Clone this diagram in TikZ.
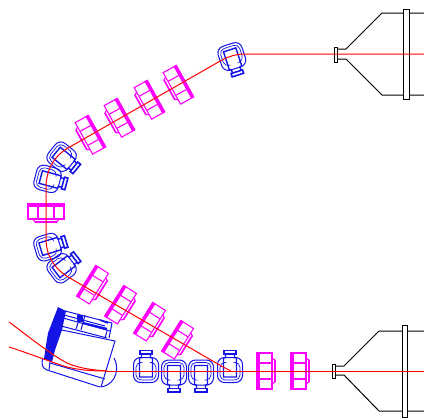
\documentclass[tikz,border=0pt]{standalone}
\definecolor{quadpink}{RGB}{255,0,255}
\definecolor{dipblue}{RGB}{20,20,230}
\definecolor{beamred}{RGB}{255,0,0}
\tikzset{
	pics/quadmag/.style={code={
		\draw[color=quadpink,line width=1.1pt] (-8,-18) rectangle (7,18);
		\draw[color=quadpink,line width=1.1pt] (-8,-8)--(7,-8);
		\draw[color=quadpink,line width=1.1pt] (-8,8)--(7,8);
		\draw[color=quadpink,line width=1.1pt] (7,-13) -- (10,-11) -- (10,11) -- (7,13);
		\fill[color=quadpink] (-8.5,-18.5) rectangle (-5,18.5);
		\fill[color=quadpink] (9,-11) rectangle (10.5,11);
	}},
	pics/dipmag/.style={code={
		\draw[color=dipblue,line width=1pt,rounded corners=7pt] (-12.5,-12) rectangle (12.5,13);
		\draw[color=dipblue,line width=0.7pt,rounded corners=5pt] (-6,-7) -- (-10,-7) -- (-10,10.5) -- (10,10.5) -- (10,-7) -- (6,-7);
		\draw[color=dipblue,line width=1.4pt] (-4.5,-15.5) -- (-4.5,-12) -- (-6.5,-11.5) -- (-6.5,7.5) -- (6.5,7.5) -- (6.5,-11.5) -- (4.5,-12) -- (4.5,-15.5);
		\draw[color=dipblue,line width=1.6pt] (-6,-15.5) rectangle (6,-19);
	}}
}
\begin{document}
\begin{tikzpicture}[>=stealth,x=1pt,y=-1pt,line width=1pt]
	\useasboundingbox (0,0) rectangle (424,418);
	% upper arm
	\pic[rotate=209] at (178,85) {quadmag};
	\pic[rotate=209] at (149,100) {quadmag};
	\pic[rotate=209] at (119,118) {quadmag};
	\pic[rotate=209] at (90,135) {quadmag};
	\pic[rotate=-162] at (232,57) {dipmag};
	\pic[rotate=-129] at (62,157) {dipmag};
	\pic[rotate=-105] at (48,179) {dipmag};
	% bend
	\pic[rotate=-90] at (46,212) {quadmag};
	\pic[rotate=-73] at (48,247) {dipmag};
	\pic[rotate=-53] at (62,268) {dipmag};
	% lower arm
	\pic[rotate=-32] at (93,285) {quadmag};
	\pic[rotate=-32] at (121,305) {quadmag};
	\pic[rotate=-32] at (150,322) {quadmag};
	\pic[rotate=-32] at (178,340) {quadmag};
	\pic at (146,369.5) {dipmag};
	\pic[rotate=180] at (174,373) {dipmag};
	\pic[rotate=180] at (201,373) {dipmag};
	\pic at (230,369.5) {dipmag};
	\pic at (265,371) {quadmag};
	\pic at (299,371) {quadmag};
	% big bending magnet
	\begin{scope}[color=dipblue]
		\fill (58,307)--(66,311)--(62,330)--(55,350)--(52,362)--(44,359)--(46,345)--(48,333)--cycle;
		\draw (65,311)--(112,323);
		\draw (64,315)--(105,326);
		\draw (63,318)--(110,331);
		\draw (61,326)--(107,338);
		\draw (57,329)--(115,341)--(101,387);
		\draw (50,363)--(105,379);
		\draw (50,362)--(49,370);
		\draw (47,370)--(100,387);
		\draw (43,358) .. controls (41,364) and (42,368) .. (47,370);
		\draw (114,358) .. controls (119,366) and (118,384) .. (101,387);
		\fill (77,315) rectangle (83,322);
		\draw (85,315)--(81,330);
		\draw (78,323)--(76,329);
		\draw[line width=2.2pt] (83,323)--(107,329);
		\draw[line width=1.6pt] (100,320)--(108,323);
		\draw (112,323)--(109,338);
		\draw (107,331)--(105,338);
	\end{scope}
	% left and right vacuum chambers
	\draw (424,13)--(382,13)--(346,49)--(337,49);
	\draw (424,95)--(382,95)--(346,59)--(337,59);
	\draw (334,47) rectangle (337,62);
	\draw[fill=white] (403,9) rectangle (409,99);
	\draw (424,331)--(379,331)--(344,366)--(335,366);
	\draw (424,411)--(379,411)--(344,375)--(335,375);
	\draw (332,364) rectangle (335,378);
	\draw[fill=white] (402,325) rectangle (407,417);
	% beam
	\draw[color=beamred] (424,54)--(245,54) .. controls (236,54) and (230,56) .. (222,60)
		--(68,148) .. controls (54,156) and (46,170) .. (46,188)
		--(46,238) .. controls (46,256) and (54,268) .. (68,277)
		--(223,367)--(231,371);
	\draw[color=beamred] (424,371)--(107,371);
	\draw[color=beamred] (9,322) .. controls (28,336) and (50,354) .. (67,363) .. controls (78,368) and (92,370) .. (107,371);
	\draw[color=beamred] (9,347) .. controls (28,353) and (48,361) .. (67,367) .. controls (80,370) and (90,371) .. (107,371);
\end{tikzpicture}
\end{document}
